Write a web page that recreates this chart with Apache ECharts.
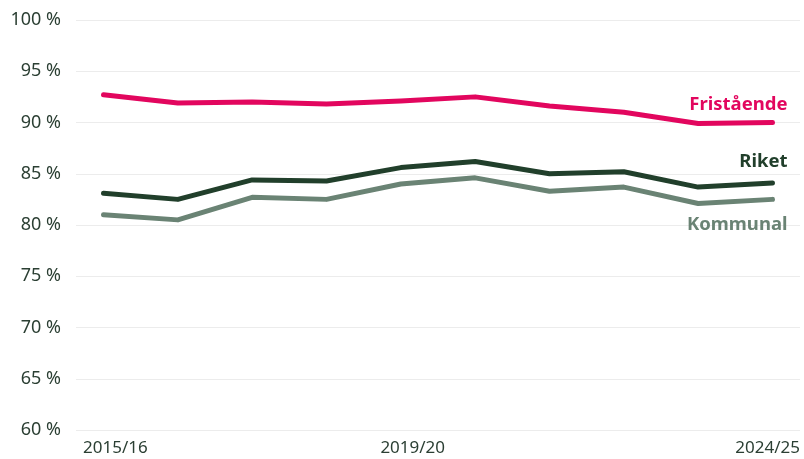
<!DOCTYPE html>
<html>
<head>
<meta charset="utf-8">
<script src="https://cdn.jsdelivr.net/npm/echarts@6/dist/echarts.min.js"></script>
<style>
  html, body { margin: 0; padding: 0; background: #fff; }
  #chart { width: 804px; height: 459px; }
</style>
</head>
<body>
<div id="chart"></div>
<script>
// läsår
const years = ['2015/16', '2016/17', '2017/18', '2018/19', '2019/20', '2020/21', '2021/22', '2022/23', '2023/24', '2024/25'];
const fristaende = [92.7, 91.9, 92.0, 91.8, 92.1, 92.5, 91.6, 91.0, 89.9, 90.0];
const riket = [83.1, 82.5, 84.4, 84.3, 85.6, 86.2, 85.0, 85.2, 83.7, 84.1];
const kommunal = [81.0, 80.5, 82.7, 82.5, 84.0, 84.6, 83.3, 83.7, 82.1, 82.5];
const yTicks = [60, 65, 70, 75, 80, 85, 90, 95, 100];

const textColor = '#2b3f33';
const font = 'Noto Sans';

function line(name, data, color, dy) {
    return {
        name: name,
        type: 'line',
        data: data.map((v, i) => [i, v]),
        symbol: 'none',
        lineStyle: { width: 5, color: color, cap: 'round', join: 'round' },
        itemStyle: { color: color },
        // namn vid sista punkten
        endLabel: {
            show: true,
            formatter: name,
            color: color,
            fontFamily: font,
            fontWeight: 'bold',
            fontSize: 18.5,
            align: 'right',
            verticalAlign: 'middle',
            distance: 0,
            offset: [15, dy]
        }
    };
}

let myChart = echarts.init(document.getElementById('chart'));
let option = {
    animation: false,
    grid: { left: 76, right: 4, top: 20, bottom: 29 },
    xAxis: {
        type: 'value',
        min: -0.37,
        max: 9.37,
        axisLine: { show: false },
        axisTick: { show: false },
        splitLine: { show: false },
        axisLabel: {
            customValues: [0.16, 4.16, 9.37],
            formatter: v => years[Math.round(v)],
            alignMaxLabel: 'right',
            color: textColor,
            fontFamily: font,
            fontSize: 17,
            margin: 10
        }
    },
    yAxis: {
        type: 'value',
        min: 60,
        max: 100,
        interval: 5,
        axisLine: { show: false },
        axisTick: { show: false },
        splitLine: { lineStyle: { color: '#ececec', width: 1 } },
        axisLabel: {
            formatter: v => yTicks.indexOf(v) >= 0 ? v + ' %' : '',
            color: textColor,
            fontFamily: font,
            fontSize: 18,
            margin: 15
        }
    },
    series: [
        line('Fristående', fristaende, '#e2065e', -18),
        line('Riket', riket, '#213f2b', -21),
        line('Kommunal', kommunal, '#6a8374', 25)
    ]
};
myChart.setOption(option);
</script>
</body>
</html>
